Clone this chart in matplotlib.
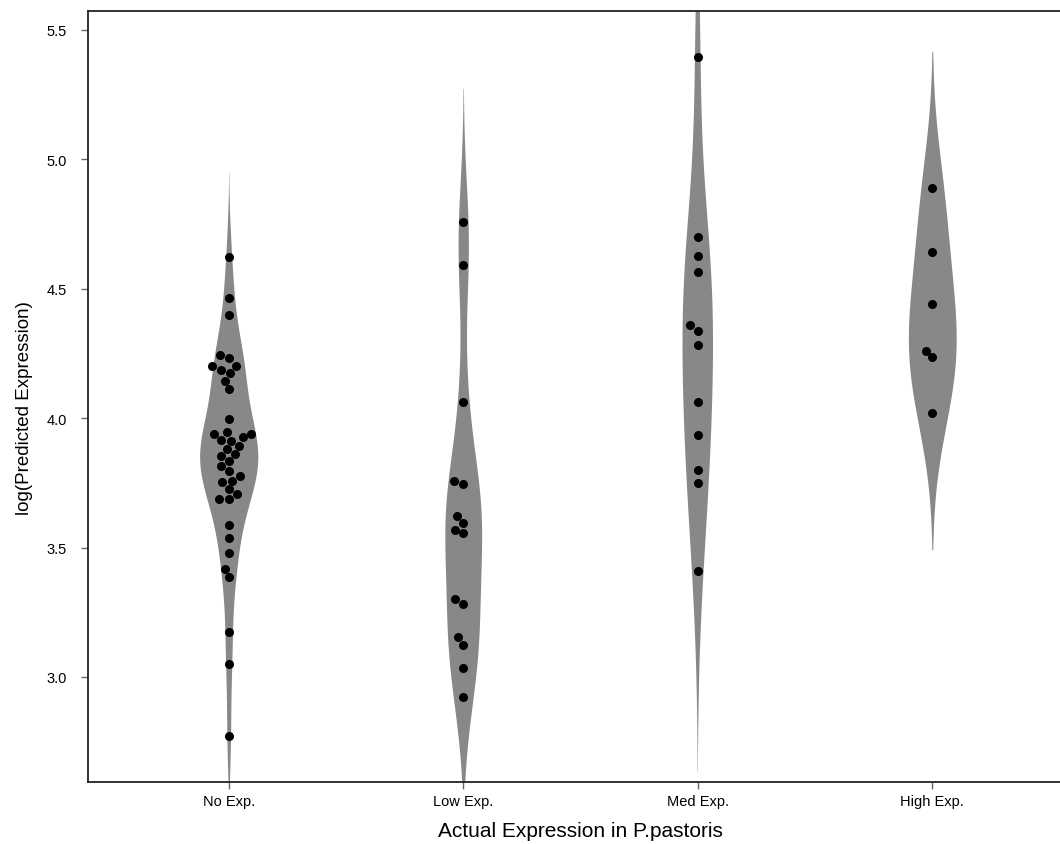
import numpy as np
import pandas as pd
import matplotlib
matplotlib.use("Agg")
import matplotlib.pyplot as plt
import seaborn as sns

# 各カテゴリの値
categories = ["No Exp.", "Low Exp.", "Med Exp.", "High Exp."]

no_exp = [4.622, 4.464, 4.400, 4.242, 4.231, 4.200, 4.200, 4.185, 4.175, 4.145,
          4.113, 3.997, 3.945, 3.939, 3.939, 3.926, 3.917, 3.913, 3.894, 3.881,
          3.862, 3.855, 3.836, 3.816, 3.797, 3.778, 3.758, 3.752, 3.726, 3.707,
          3.688, 3.688, 3.587, 3.536, 3.479, 3.417, 3.385, 3.173, 3.050, 2.773]
low_exp = [4.757, 4.592, 4.061, 3.758, 3.746, 3.620, 3.595, 3.569, 3.555, 3.300,
           3.282, 3.153, 3.125, 3.034, 2.924]
med_exp = [5.394, 4.699, 4.628, 4.566, 4.360, 4.338, 4.283, 4.061, 3.936, 3.801,
           3.750, 3.411]
high_exp = [4.889, 4.641, 4.439, 4.261, 4.235, 4.020]

y_ticks = [3.0, 3.5, 4.0, 4.5, 5.0, 5.5]

groups = [no_exp, low_exp, med_exp, high_exp]

# KDE のバンド幅（見た目合わせ）
BW = [0.14, 0.22, 0.33, 0.225]
CUT = 2.35
HALF_W = 0.124   # 一番太いバイオリンの半幅（x 単位）

df = pd.DataFrame({
    "cat": sum([[c] * len(g) for c, g in zip(categories, groups)], []),
    "val": sum(groups, []),
})

plt.rcParams['font.family'] = ['Liberation Sans', 'DejaVu Sans']

fig = plt.figure(figsize=(10.6, 8.45), dpi=100)
ax = fig.add_axes([88 / 1060, 62 / 845, 985 / 1060, 771 / 845])

sns.swarmplot(data=df, x="cat", y="val", order=categories, color="black",
              size=6.5, ax=ax, zorder=3)

# バイオリン（面積そろえ）
kdes = []
for g, h in zip(groups, BW):
    v = np.array(g)
    yy = np.linspace(v.min() - CUT * h, v.max() + CUT * h, 600)
    dens = np.exp(-0.5 * ((yy[:, None] - v[None, :]) / h) ** 2).sum(axis=1)
    dens /= len(v) * h * np.sqrt(2 * np.pi)
    kdes.append((yy, dens))
scale = HALF_W / max(d.max() for _, d in kdes)
for i, (yy, dens) in enumerate(kdes):
    ax.fill_betweenx(yy, i - dens * scale, i + dens * scale,
                     color="#888888", lw=0, zorder=1)

ax.set_xlim(-0.6, 3.6)
ax.set_ylim(2.594, 5.573)
ax.set_yticks(y_ticks)
ax.set_yticklabels([f"{t:.1f}" for t in y_ticks])
ax.tick_params(labelsize=10.5, length=5, width=1, color="#666666")
ax.tick_params(axis="y", pad=10)
ax.tick_params(axis="x", pad=4)
ax.set_xlabel("Actual Expression in P.pastoris", fontsize=15, labelpad=9)
ax.set_ylabel("log(Predicted Expression)", fontsize=13.5)
ax.yaxis.set_label_coords(-0.056, 0.486)
for s in ax.spines.values():
    s.set_linewidth(1.3)
    s.set_color("#222222")

fig.savefig("out.png", dpi=100)
